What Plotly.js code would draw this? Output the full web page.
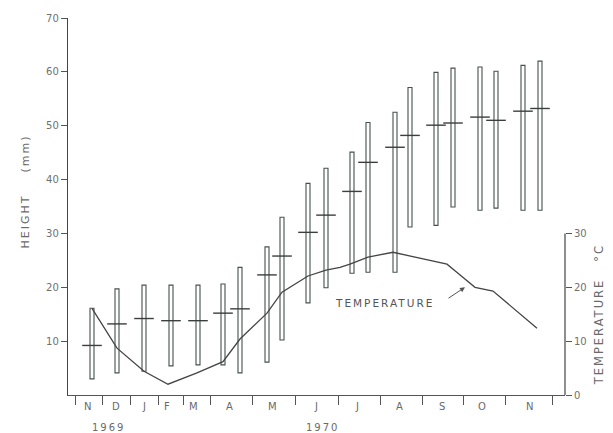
<!DOCTYPE html>
<html>
<head>
<meta charset="utf-8">
<script src="https://cdn.plot.ly/plotly-3.0.1.min.js"></script>
<style>
  html, body { margin: 0; padding: 0; background: #fff; }
  #chart { width: 613px; height: 433px; }
  .annotation-text { letter-spacing: 2px; }
</style>
</head>
<body>
<div id="chart"></div>
<script>
// Horizontal position unit: relative position along the time axis (Nov 1969 -> Nov 1970)
const monthBounds = [7, 34, 62, 90, 115, 142, 184, 227, 270, 312, 354, 395, 437, 484];
const monthLabels = ['N', 'D', 'J', 'F', 'M', 'A', 'M', 'J', 'J', 'A', 'S', 'O', 'N'];
const monthCenters = [20, 49, 77, 100, 126, 162, 205, 249, 290, 332, 375, 415, 462];
const yearLabels = ['1969', '1970'];
const yearPos = [40, 254];

// Plant height samples (mm): range (bottom/top) and mean
const barX = [24, 49, 76, 103, 130, 155, 172, 199, 214, 240, 258, 284, 300, 327, 342, 368, 385, 412, 428, 455, 472];
const barTop = [16.1, 19.7, 20.4, 20.4, 20.4, 20.6, 23.7, 27.5, 33.0, 39.3, 42.1, 45.1, 50.6, 52.5, 57.1, 59.9, 60.7, 60.9, 60.1, 61.2, 62.0];
const barBottom = [3.0, 4.1, 4.4, 5.4, 5.6, 5.6, 4.1, 6.1, 10.2, 17.1, 19.9, 22.6, 22.8, 22.8, 31.2, 31.5, 34.9, 34.3, 34.7, 34.3, 34.3];
const barMean = [9.2, 13.2, 14.2, 13.8, 13.8, 15.2, 16.0, 22.3, 25.8, 30.2, 33.4, 37.8, 43.2, 46.0, 48.2, 50.1, 50.5, 51.6, 51.0, 52.7, 53.2];

// Temperature (°C)
const tempX = [24, 49, 76, 100, 129, 155, 172, 199, 214, 240, 258, 272, 282, 300, 325, 352, 379, 390, 407, 425, 444, 469];
const tempY = [16.1, 8.7, 4.4, 2.0, 4.1, 6.2, 10.4, 15.2, 19.1, 22.1, 23.2, 23.7, 24.3, 25.6, 26.5, 25.4, 24.3, 22.6, 20.0, 19.3, 16.3, 12.4];

const heightTicks = [10, 20, 30, 40, 50, 60, 70];
const tempTicks = [0, 10, 20, 30];

const ink = '#3a3f3d';
const textCol = '#6a6a6a';
const fontFam = 'DejaVu Sans, Arial, sans-serif';

const traces = [
  {
    type: 'bar',
    x: barX,
    base: barBottom,
    y: barTop.map((t, i) => t - barBottom[i]),
    width: 4,
    marker: { color: 'rgba(255,255,255,0)', line: { color: '#46514c', width: 1.1 } },
    hoverinfo: 'skip',
    showlegend: false
  },
  {
    type: 'scatter',
    mode: 'markers',
    x: barX,
    y: barMean,
    marker: { symbol: 'line-ew', size: 14, line: { color: ink, width: 1.4 } },
    showlegend: false
  },
  {
    type: 'scatter',
    mode: 'lines',
    x: tempX,
    y: tempY,
    yaxis: 'y2',
    line: { color: '#444', width: 1.3 },
    showlegend: false
  }
];

const annotations = [];
monthLabels.forEach((m, i) => {
  annotations.push({
    text: m, x: monthCenters[i], xref: 'x', y: 0, yref: 'paper',
    yanchor: 'middle', yshift: -11, showarrow: false,
    font: { family: fontFam, size: 10, color: textCol }
  });
});
yearLabels.forEach((t, i) => {
  annotations.push({
    text: t, x: yearPos[i], xref: 'x', y: 0, yref: 'paper',
    yanchor: 'middle', yshift: -32, showarrow: false,
    font: { family: fontFam, size: 10, color: textCol }
  });
});
annotations.push({
  text: 'TEMPERATURE', x: 316, xref: 'x', y: 17.1, yref: 'y',
  showarrow: false, font: { family: fontFam, size: 10.5, color: '#555' }
});
annotations.push({
  text: '', x: 397, y: 20.0, xref: 'x', yref: 'y',
  ax: 379, ay: 17.8, axref: 'x', ayref: 'y',
  showarrow: true, arrowhead: 2, arrowsize: 1, arrowwidth: 1, arrowcolor: '#555'
});
annotations.push({
  text: 'HEIGHT\u00a0\u00a0\u00a0\u00a0(mm)', x: 0, xref: 'paper', xshift: -51,
  y: 37.7, yref: 'y', textangle: -90, showarrow: false,
  font: { family: fontFam, size: 11, color: textCol }
});
annotations.push({
  text: 'TEMPERATURE\u00a0\u00a0\u00a0°C', x: 1, xref: 'paper', xshift: 43,
  y: 14.8, yref: 'y', textangle: -90, showarrow: false,
  font: { family: fontFam, size: 11.5, color: textCol }
});

const layout = {
  width: 613, height: 433,
  margin: { l: 68, r: 48, t: 18, b: 38 },
  paper_bgcolor: '#fff', plot_bgcolor: '#fff',
  showlegend: false,
  barmode: 'overlay',
  xaxis: {
    range: [0, 497], showgrid: false, zeroline: false,
    showline: true, linecolor: '#555', linewidth: 1,
    tickmode: 'array', tickvals: monthBounds, ticks: 'outside', ticklen: 9,
    tickcolor: '#555', tickwidth: 1, showticklabels: false
  },
  yaxis: {
    range: [0, 70], showgrid: false, zeroline: false,
    showline: true, linecolor: '#444', linewidth: 1.2,
    tickmode: 'array', tickvals: heightTicks, ticktext: heightTicks.map(String),
    ticks: 'outside', ticklen: 6, tickcolor: '#555',
    tickfont: { family: fontFam, size: 10, color: '#707070' }
  },
  yaxis2: {
    range: [0, 70], overlaying: 'y', side: 'right',
    showgrid: false, zeroline: false, showline: false,
    tickmode: 'array', tickvals: tempTicks, ticktext: tempTicks.map(String),
    ticks: 'outside', ticklen: 6, tickcolor: '#555',
    tickfont: { family: fontFam, size: 10, color: '#707070' }
  },
  shapes: [
    { type: 'line', xref: 'paper', x0: 1, x1: 1, yref: 'y2', y0: 0, y1: 30,
      line: { color: '#444', width: 1.2 } }
  ],
  annotations: annotations
};

Plotly.newPlot('chart', traces, layout, { displayModeBar: false, staticPlot: true });
</script>
</body>
</html>
